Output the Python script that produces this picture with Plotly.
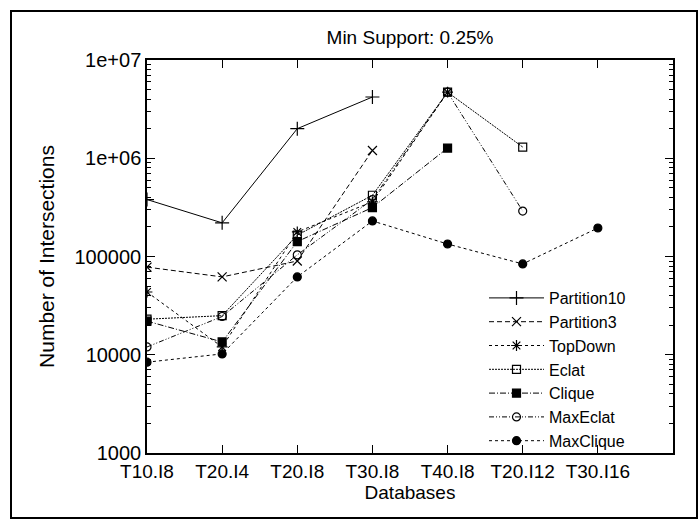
import plotly.graph_objects as go

databases = ["T10.I8", "T20.I4", "T20.I8", "T30.I8", "T40.I8", "T20.I12", "T30.I16"]

partition10 = [380000, 220000, 2000000, 4200000, None, None, None]
partition3 = [78000, 62000, 90000, 1200000, None, None, None]
topdown = [43500, 12000, 178000, 360000, 4700000, None, None]
eclat = [23000, 25000, 165000, 420000, 4700000, 1300000, None]
clique = [22000, 13500, 142000, 315000, 1270000, None, None]
maxeclat = [12000, 24500, 104000, 380000, 4700000, 290000, None]
maxclique = [8400, 10200, 62000, 230000, 134000, 84000, 195000]

y_tickvals = [1000, 10000, 100000, 1000000, 10000000]
y_ticktext = ["1000", "10000", "100000", "1e+06", "1e+07"]
y_minor_vals = [m * d for d in (1000, 10000, 100000, 1000000) for m in range(2, 10)]

FONT = "Liberation Sans, Arial, Helvetica, sans-serif"

series = [
    ("Partition10", partition10, "solid", "cross-thin", 10),
    ("Partition3", partition3, "5px,3px", "x-thin", 9),
    ("TopDown", topdown, "3px,3px", "asterisk", 9),
    ("Eclat", eclat, "2px,1px", "square-open", 8),
    ("Clique", clique, "6px,2px,1px,2px", "square", 8),
    ("MaxEclat", maxeclat, "5px,2px,1px,2px,1px,2px", "circle-open", 8),
    ("MaxClique", maxclique, "3px,3px", "circle", 8),
]

fig = go.Figure()
for name, vals, dash, sym, size in series:
    fig.add_trace(go.Scatter(
        x=databases, y=vals, name=name, mode="lines+markers",
        line=dict(color="black", width=1, dash=dash),
        marker=dict(symbol=sym, size=size, color="black",
                    line=dict(color="black", width=1.2)),
        connectgaps=False,
    ))

# plot area: x 147..673, y 60..453
L, R, T, B = 147, 673, 60, 453
W, H = R - L, B - T

def px(x):
    return (x - L) / W

def py(y):
    return (B - y) / H

fig.update_layout(
    width=700, height=529,
    margin=dict(l=L, r=700 - R, t=T, b=529 - B),
    paper_bgcolor="white", plot_bgcolor="white",
    font=dict(family=FONT, size=19, color="black"),
    title=dict(text="Min Support: 0.25%", x=0.5, xref="paper", xanchor="center",
               y=1 - 37 / 529, yref="container", yanchor="middle",
               font=dict(size=19, family=FONT)),
    showlegend=True,
    legend=dict(x=px(484), y=py(281), xanchor="left", yanchor="top",
                bgcolor="rgba(0,0,0,0)", font=dict(size=16, family=FONT),
                itemwidth=55, tracegroupgap=0),
    shapes=[dict(type="rect", xref="paper", yref="paper",
                 x0=px(11), x1=px(697), y0=py(518), y1=py(11),
                 line=dict(color="black", width=2))],
)

fig.update_xaxes(
    type="category", range=[0, 7],
    showline=True, linecolor="black", linewidth=1.5, mirror="ticks",
    ticks="inside", ticklen=8, tickwidth=1.2, tickcolor="black",
    showgrid=False, zeroline=False,
    tickfont=dict(size=19, family=FONT),
    title=dict(text="Databases", font=dict(size=19, family=FONT), standoff=2),
)
fig.update_yaxes(
    type="log", range=[3, 7],
    tickvals=y_tickvals, ticktext=y_ticktext,
    showline=True, linecolor="black", linewidth=1.5, mirror="ticks",
    ticks="inside", ticklen=8, tickwidth=1.2, tickcolor="black",
    minor=dict(tickvals=y_minor_vals, ticks="inside", ticklen=4, tickwidth=1,
               tickcolor="black", showgrid=False),
    showgrid=False, zeroline=False,
    tickfont=dict(size=20, family=FONT),
    title=dict(text="Number of Intersections", font=dict(size=21, family=FONT), standoff=14),
)

fig.write_html("out.html")
